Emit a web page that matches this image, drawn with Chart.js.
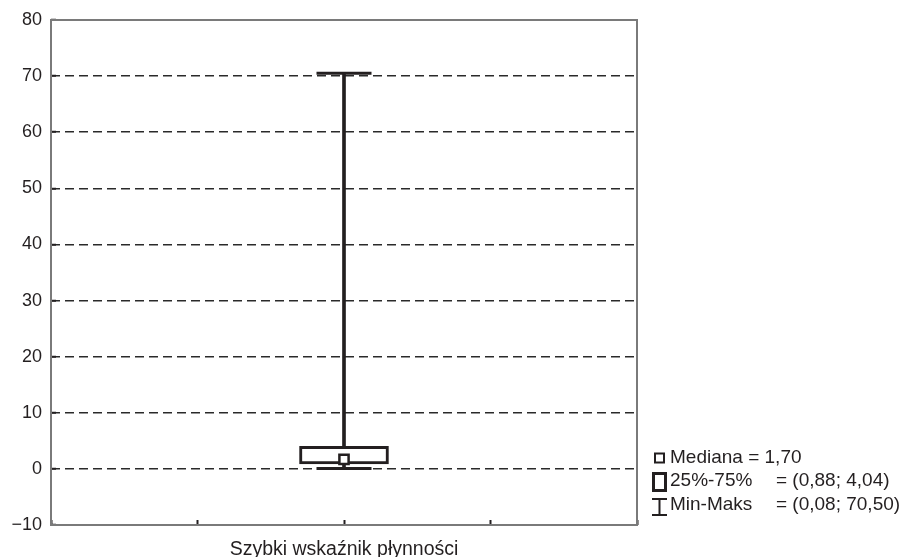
<!DOCTYPE html>
<html>
<head>
<meta charset="utf-8">
<script src="https://cdn.jsdelivr.net/npm/chart.js@4"></script>
<style>
  html, body { margin: 0; padding: 0; background: #fff; }
  #wrap { width: 906px; height: 557px; }
</style>
</head>
<body>
<div id="wrap"><canvas id="myChart" width="906" height="557"></canvas></div>
<script>
// One box plot, the empty categories only give the extra ticks on the x axis
var categories = ['', '', 'Szybki wskaźnik płynności', '', ''];
var seriesName = 'Szybki wskaźnik płynności';
var medianValues = [1.70];
var q1Values = [0.88];
var q3Values = [4.04];
var minValues = [0.08];
var maxValues = [70.50];
var yTicks = [-10, 0, 10, 20, 30, 40, 50, 60, 70, 80];
var legendLabels = ['Mediana', '25%-75%', 'Min-Maks'];

var ink = '#231f20';
var font = '"Liberation Sans", Arial, sans-serif';

// polish style numbers, ex. 1,70
function fmt(v) {
  return v.toFixed(2).replace('.', ',');
}

// frame round the plot area and the legend on the right
var framePlugin = {
  id: 'frame',
  beforeDatasetsDraw: function (chart) {
    var ctx = chart.ctx;
    var a = chart.chartArea;
    ctx.save();
    ctx.strokeStyle = '#7a7a7a';
    ctx.lineWidth = 2;
    ctx.strokeRect(a.left, a.top, a.right - a.left, a.bottom - a.top);
    ctx.restore();
  },
  afterDraw: function (chart) {
    var ctx = chart.ctx;
    ctx.save();
    ctx.strokeStyle = ink;
    ctx.fillStyle = ink;
    ctx.font = '19px ' + font;
    ctx.textBaseline = 'alphabetic';

    // median marker
    ctx.lineWidth = 2;
    ctx.strokeRect(655, 453.5, 9, 9);
    ctx.fillText(legendLabels[0] + ' = ' + fmt(medianValues[0]), 670, 463);

    // box marker
    ctx.lineWidth = 3;
    ctx.strokeRect(653.5, 473.5, 12, 17);
    ctx.fillText(legendLabels[1], 670, 486);
    ctx.fillText('= (' + fmt(q1Values[0]) + '; ' + fmt(q3Values[0]) + ')', 776, 486);

    // whisker marker
    ctx.lineWidth = 2;
    ctx.beginPath();
    ctx.moveTo(659.5, 499); ctx.lineTo(659.5, 515);
    ctx.moveTo(652, 499); ctx.lineTo(667, 499);
    ctx.moveTo(652, 515); ctx.lineTo(667, 515);
    ctx.stroke();
    ctx.fillText(legendLabels[2], 670, 509.5);
    ctx.fillText('= (' + fmt(minValues[0]) + '; ' + fmt(maxValues[0]) + ')', 776, 509.5);
    ctx.restore();
  }
};

var chartElement = document.getElementById('myChart').getContext('2d');

new Chart(chartElement, {
  data: {
    labels: categories,
    datasets: [
      {
        // whisker line
        type: 'bar',
        order: 4,
        grouped: false,
        data: [{ x: seriesName, y: [minValues[0], maxValues[0]] }],
        barThickness: 3,
        backgroundColor: ink,
        borderWidth: 0
      },
      {
        // box 25%-75%
        type: 'bar',
        order: 3,
        grouped: false,
        data: [{ x: seriesName, y: [q1Values[0], q3Values[0]] }],
        barThickness: 89,
        backgroundColor: '#ffffff',
        borderColor: ink,
        borderWidth: 3,
        borderSkipped: false
      },
      {
        // whisker caps
        type: 'line',
        order: 2,
        showLine: false,
        data: [{ x: seriesName, y: minValues[0] }, { x: seriesName, y: maxValues[0] }],
        pointStyle: 'line',
        pointRadius: 27.5,
        pointBorderWidth: 3,
        pointBorderColor: ink
      },
      {
        // median
        type: 'line',
        order: 1,
        showLine: false,
        data: [{ x: seriesName, y: medianValues[0] }],
        pointStyle: 'rect',
        pointRadius: 6.5,
        pointBorderWidth: 2.5,
        pointBorderColor: ink,
        pointBackgroundColor: '#ffffff'
      }
    ]
  },
  options: {
    responsive: false,
    animation: false,
    events: [],
    layout: { autoPadding: false, padding: { top: 20, right: 269, left: 0, bottom: 0 } },
    plugins: {
      legend: { display: false },
      tooltip: { enabled: false }
    },
    scales: {
      x: {
        type: 'category',
        offset: false,
        border: { display: false },
        grid: {
          offset: false,
          drawOnChartArea: false,
          tickLength: -5,
          tickColor: ink,
          tickWidth: 2
        },
        ticks: {
          autoSkip: false,
          maxRotation: 0,
          padding: 18,
          color: ink,
          font: { family: font, size: 19.5 }
        },
        afterFit: function (scale) { scale.height = 32; }
      },
      y: {
        min: yTicks[0],
        max: yTicks[yTicks.length - 1],
        border: { display: false, dash: [9, 5] },
        grid: {
          color: function (c) {
            var v = c.tick ? c.tick.value : null;
            return (v === yTicks[0] || v === yTicks[yTicks.length - 1]) ? 'rgba(0,0,0,0)' : '#2a2a2a';
          },
          lineWidth: 1.5,
          tickLength: -5,
          tickColor: ink,
          tickWidth: 2,
          tickBorderDash: []
        },
        afterBuildTicks: function (scale) {
          scale.ticks = yTicks.map(function (v) { return { value: v }; });
        },
        ticks: {
          padding: 14,
          color: ink,
          font: { family: font, size: 18 },
          callback: function (v) {
            return v < 0 ? '\u2212' + Math.abs(v) : String(v);
          }
        },
        afterFit: function (scale) {
          scale.width = 51;
          // the tick padding should not push the plot area down
          scale.paddingTop = 0;
          scale.paddingBottom = 0;
        }
      }
    }
  },
  plugins: [framePlugin]
});
</script>
</body>
</html>
